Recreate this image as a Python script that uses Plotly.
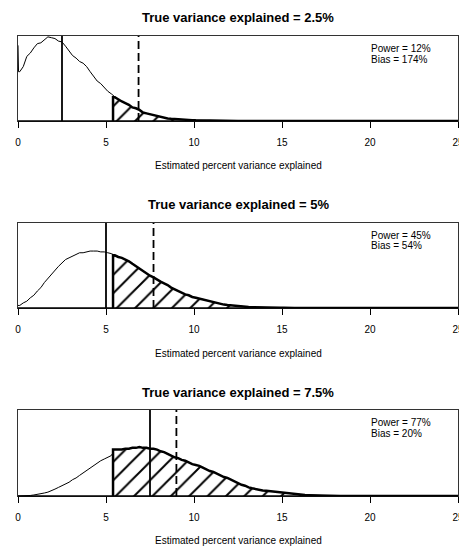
import numpy as np
import plotly.graph_objects as go

# ---- data -------------------------------------------------------------
bin_width = 0.2  # width of histogram bins (percent variance explained)
threshold = 5.4  # significance cut-off; estimates above it are hatched

true_pct = [2.5, 5.0, 7.5]
power_pct = [12, 45, 77]
bias_pct = [174, 54, 20]

# height of the spike of estimates sitting exactly at zero
spike_at_zero = [0.89, 0.03, 0.0]

# relative density of the estimates, one value per 0.2-wide bin from 0
density_25 = [
    0.58, 0.64, 0.76, 0.80, 0.86, 0.91, 0.92, 0.95, 0.99, 0.98,
    0.97, 0.94, 0.93, 0.88, 0.82, 0.77, 0.74, 0.70, 0.68, 0.64,
    0.58, 0.52, 0.47, 0.44, 0.39, 0.35, 0.32, 0.28, 0.25, 0.23,
    0.21, 0.19, 0.16, 0.15, 0.13, 0.10, 0.09, 0.08, 0.065, 0.055,
    0.045, 0.038, 0.030, 0.026, 0.022, 0.018, 0.016, 0.014, 0.012, 0.010,
    0.008, 0.007, 0.006, 0.005, 0.004, 0.004, 0.003, 0.003, 0.002, 0.002,
    0.001, 0.001, 0.0,
]
density_50 = [
    0.03, 0.06, 0.08, 0.12, 0.15, 0.20, 0.24, 0.30, 0.35, 0.40,
    0.45, 0.49, 0.53, 0.57, 0.59, 0.61, 0.63, 0.65, 0.65, 0.66,
    0.67, 0.67, 0.67, 0.66, 0.66, 0.65, 0.64, 0.62, 0.60, 0.59,
    0.57, 0.55, 0.52, 0.49, 0.47, 0.44, 0.41, 0.38, 0.36, 0.33,
    0.31, 0.29, 0.27, 0.24, 0.22, 0.20, 0.18, 0.16, 0.15, 0.13,
    0.12, 0.11, 0.10, 0.085, 0.075, 0.065, 0.055, 0.048, 0.040, 0.035,
    0.030, 0.026, 0.022, 0.018, 0.015, 0.012, 0.010, 0.008, 0.007, 0.006,
    0.005, 0.004, 0.003, 0.003, 0.002, 0.002, 0.001, 0.001, 0.0,
]
density_75 = [
    0.0, 0.0, 0.002, 0.006, 0.012, 0.018, 0.025, 0.035, 0.045, 0.06,
    0.08, 0.10, 0.12, 0.14, 0.16, 0.19, 0.21, 0.24, 0.27, 0.30,
    0.33, 0.36, 0.39, 0.41, 0.43, 0.45, 0.47, 0.54, 0.54, 0.54,
    0.55, 0.55, 0.56, 0.56, 0.57, 0.56, 0.56, 0.55, 0.55, 0.54,
    0.52, 0.51, 0.49, 0.47, 0.45, 0.44, 0.42, 0.41, 0.39, 0.37,
    0.36, 0.35, 0.33, 0.31, 0.29, 0.28, 0.26, 0.24, 0.22, 0.21,
    0.19, 0.17, 0.15, 0.13, 0.12, 0.10, 0.09, 0.08, 0.07, 0.065,
    0.06, 0.055, 0.05, 0.045, 0.04, 0.035, 0.03, 0.026, 0.022, 0.018,
    0.015, 0.012, 0.010, 0.008, 0.007, 0.006, 0.005, 0.004, 0.003, 0.002,
    0.001, 0.0,
]
densities = [density_25, density_50, density_75]

x_max = 25
x_ticks = [0, 5, 10, 15, 20, 25]
x_title = "Estimated percent variance explained"

# ---- layout geometry (paper fractions) --------------------------------
W, H = 459, 546
x_dom = [18 / W, 458 / W]
panels_px = [(36, 121), (223, 308), (410, 496)]  # (top, bottom) in px
title_px = [17, 204, 392]
xlab_px = [165, 353, 540]

fig = go.Figure()
annotations = []
shapes = []
font_main = "Liberation Sans, Arial, sans-serif"

for i, (dens, tv, pw, bs, spike) in enumerate(
        zip(densities, true_pct, power_pct, bias_pct, spike_at_zero)):
    n = i + 1
    xa = "x" if n == 1 else f"x{n}"
    ya = "y" if n == 1 else f"y{n}"
    dens = np.asarray(dens, dtype=float)
    mids = (np.arange(len(dens)) + 0.5) * bin_width

    # outline of the whole distribution (polygon through bin midpoints)
    xs = np.concatenate([[0.0, 0.03], mids, [x_max]])
    ys = np.concatenate([[spike, dens[0]], dens, [0.0]])
    fig.add_trace(go.Scatter(
        x=xs, y=ys, mode="lines", line=dict(color="black", width=1),
        xaxis=xa, yaxis=ya, hoverinfo="skip", showlegend=False))

    # hatched tail above the threshold
    keep = mids > threshold
    hx = np.concatenate([[threshold, threshold], mids[keep], [x_max]])
    hy = np.concatenate([[0.0, dens[keep][0]], dens[keep], [0.0]])
    fig.add_trace(go.Scatter(
        x=hx, y=hy, mode="lines", fill="tozeroy", fillcolor="white",
        fillpattern=dict(shape="/", size=13, solidity=0.15,
                         fgcolor="black", bgcolor="white"),
        line=dict(color="black", width=2.5),
        xaxis=xa, yaxis=ya, hoverinfo="skip", showlegend=False))

    # true value (solid) and mean estimate (dashed)
    mean_est = tv * (1 + bs / 100)
    shapes.append(dict(type="line", xref=xa, yref=f"{ya} domain",
                       x0=tv, x1=tv, y0=0, y1=1,
                       line=dict(color="black", width=1.8)))
    shapes.append(dict(type="line", xref=xa, yref=f"{ya} domain",
                       x0=mean_est, x1=mean_est, y0=0, y1=1,
                       line=dict(color="black", width=1.8, dash="8px,4px")))
    # heavier baseline along the x axis
    shapes.append(dict(type="line", xref=f"{xa} domain", yref=f"{ya} domain",
                       x0=0, x1=1, y0=0, y1=0,
                       line=dict(color="black", width=1.6)))

    top, bot = panels_px[i]
    dom = [1 - bot / H, 1 - top / H]
    fig.layout[f"xaxis{'' if n == 1 else n}"] = dict(
        domain=x_dom, anchor=ya, range=[0, x_max], tickvals=x_ticks,
        ticks="outside", ticklen=6, tickwidth=1, tickcolor="black",
        ticklabelstandoff=6, ticklabeloverflow="allow",
        showline=True, linecolor="#333333", linewidth=1, mirror=True,
        showgrid=False, zeroline=False, automargin=False,
        tickfont=dict(family=font_main, size=10, color="black"))
    fig.layout[f"yaxis{'' if n == 1 else n}"] = dict(
        domain=dom, anchor=xa, range=[0, 1.0], showticklabels=False,
        ticks="", showline=True, linecolor="#333333", linewidth=1, mirror=True,
        showgrid=False, zeroline=False, automargin=False)

    xc = (x_dom[0] + x_dom[1]) / 2
    annotations.append(dict(
        text=f"<b>True variance explained = {tv:g}%</b>", xref="paper",
        yref="paper", x=xc, y=1 - title_px[i] / H, xanchor="center",
        yanchor="middle", showarrow=False,
        font=dict(family=font_main, size=13, color="black")))
    annotations.append(dict(
        text=x_title, xref="paper", yref="paper", x=xc,
        y=1 - xlab_px[i] / H, xanchor="center", yanchor="middle",
        showarrow=False, font=dict(family=font_main, size=10, color="black")))
    annotations.append(dict(
        text=f"Power = {pw}%", xref="paper", yref="paper", x=369 / W,
        y=1 - (top + 12) / H, xanchor="left", yanchor="middle",
        showarrow=False, font=dict(family=font_main, size=10, color="black")))
    annotations.append(dict(
        text=f"Bias = {bs}%", xref="paper", yref="paper", x=369 / W,
        y=1 - (top + 23) / H, xanchor="left", yanchor="middle",
        showarrow=False, font=dict(family=font_main, size=10, color="black")))

fig.update_layout(
    width=W, height=H, margin=dict(l=0, r=0, t=0, b=0),
    paper_bgcolor="white", plot_bgcolor="white",
    shapes=shapes, annotations=annotations, showlegend=False,
    template="none")

fig.write_html("out.html")
